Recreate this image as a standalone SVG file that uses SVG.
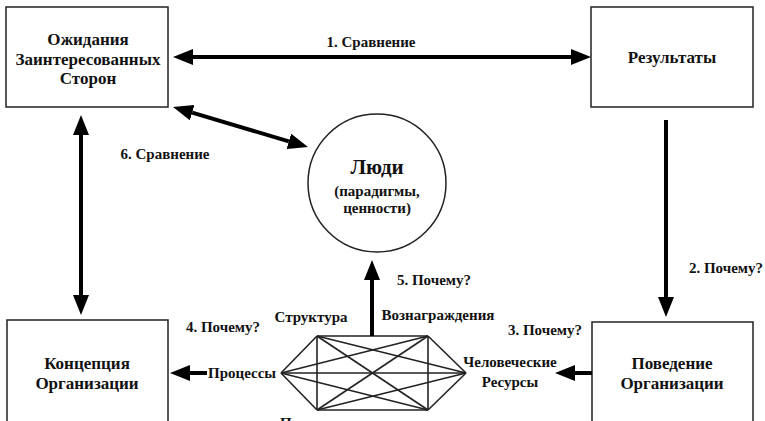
<svg xmlns="http://www.w3.org/2000/svg" width="765" height="421" viewBox="0 0 765 421">
<style>
.box{fill:#fff;stroke:#222;stroke-width:1.5}
.t{font-family:"Liberation Serif","Times New Roman",serif;font-weight:bold;fill:#111;text-anchor:middle}
.n{font-size:17px}
.l{font-size:15px}
.arr{stroke:#000;stroke-width:4;fill:none}
.hex line{stroke:#222;stroke-width:1.6}
</style>
<defs>
<marker id="ah" viewBox="0 -8 20 16" refX="0" refY="0" markerWidth="20" markerHeight="16" markerUnits="userSpaceOnUse" orient="auto-start-reverse">
<path d="M0,-8 L20,0 L0,8 z" fill="#000"/>
</marker>
</defs>
<rect width="765" height="421" fill="#fff"/>

<g id="expectations">
<rect class="box" x="6" y="7" width="162" height="100"/>
<text class="t n" x="88" y="45">Ожидания</text>
<text class="t n" x="88" y="65">Заинтересованных</text>
<text class="t n" x="88" y="84">Сторон</text>
</g>
<g id="results">
<rect class="box" x="591" y="7" width="162" height="100"/>
<text class="t n" x="672" y="63">Результаты</text>
</g>
<g id="concept">
<rect class="box" x="7" y="320" width="161" height="104"/>
<text class="t n" x="87" y="369">Концепция</text>
<text class="t n" x="87" y="389">Организации</text>
</g>
<g id="behavior">
<rect class="box" x="592" y="322" width="161" height="104"/>
<text class="t n" x="672" y="369">Поведение</text>
<text class="t n" x="672" y="389">Организации</text>
</g>
<g id="people">
<circle cx="377" cy="183" r="69" fill="#fff" stroke="#222" stroke-width="1.5"/>
<text class="t" x="377" y="174" font-size="21">Люди</text>
<text class="t" x="377" y="196" font-size="15">(парадигмы,</text>
<text class="t" x="377" y="213" font-size="15">ценности)</text>
</g>
<g id="elements">
<g class="hex">
<line x1="281" y1="373" x2="317" y2="336"/>
<line x1="281" y1="373" x2="428" y2="336"/>
<line x1="281" y1="373" x2="466" y2="373"/>
<line x1="281" y1="373" x2="428" y2="410"/>
<line x1="281" y1="373" x2="317" y2="410"/>
<line x1="317" y1="336" x2="428" y2="336"/>
<line x1="317" y1="336" x2="466" y2="373"/>
<line x1="317" y1="336" x2="428" y2="410"/>
<line x1="317" y1="336" x2="317" y2="410"/>
<line x1="428" y1="336" x2="466" y2="373"/>
<line x1="428" y1="336" x2="428" y2="410"/>
<line x1="428" y1="336" x2="317" y2="410"/>
<line x1="466" y1="373" x2="428" y2="410"/>
<line x1="466" y1="373" x2="317" y2="410"/>
<line x1="428" y1="410" x2="317" y2="410"/>
</g>
<text class="t l" x="311" y="322">Структура</text>
<text class="t l" x="438" y="320">Вознаграждения</text>
<text class="t l" x="242" y="378">Процессы</text>
<text class="t l" x="510" y="367">Человеческие</text>
<text class="t l" x="510" y="387">Ресурсы</text>
<text class="t l" x="310" y="428">Правила</text>
</g>

<g id="connectors">
<line class="arr" x1="193" y1="57" x2="571" y2="57" marker-start="url(#ah)" marker-end="url(#ah)"/>
<line class="arr" x1="666" y1="120" x2="666" y2="297" marker-end="url(#ah)"/>
<line class="arr" x1="592" y1="373" x2="575" y2="373" marker-end="url(#ah)"/>
<line class="arr" x1="207" y1="373" x2="190" y2="373" marker-end="url(#ah)"/>
<line class="arr" x1="372" y1="336" x2="372" y2="280" marker-end="url(#ah)"/>
<line class="arr" x1="81" y1="135" x2="81" y2="295" marker-start="url(#ah)" marker-end="url(#ah)"/>
<line class="arr" x1="192.2" y1="112.7" x2="288.8" y2="141.3" marker-start="url(#ah)" marker-end="url(#ah)"/>
<text class="t l" x="371" y="47">1. Сравнение</text>
<text class="t l" x="726" y="273">2. Почему?</text>
<text class="t l" x="545" y="335">3. Почему?</text>
<text class="t l" x="223" y="332">4. Почему?</text>
<text class="t l" x="434" y="285">5. Почему?</text>
<text class="t l" x="165" y="159">6. Сравнение</text>
</g>
</svg>
